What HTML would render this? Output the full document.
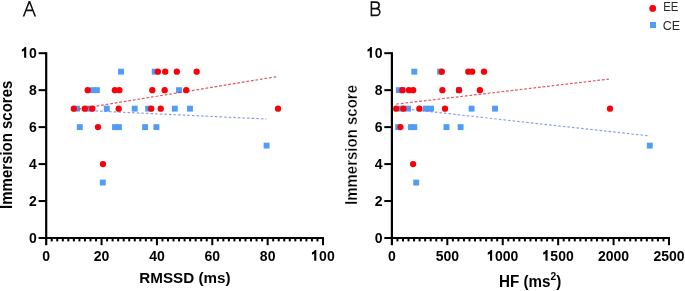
<!DOCTYPE html>
<html><head><meta charset="utf-8"><style>
html,body{margin:0;padding:0;background:#fff;width:685px;height:291px;overflow:hidden}
svg{display:block;font-family:"Liberation Sans",sans-serif;will-change:transform;filter:blur(0.3px)}
</style></head><body>
<svg width="685" height="291" viewBox="0 0 685 291">
<rect width="685" height="291" fill="#fff"/>
<rect x="45.10" y="52.2" width="2.2" height="193.00" fill="#000"/>
<rect x="38.60" y="237" width="285.30" height="2" fill="#000"/>
<rect x="38.60" y="52.20" width="7.6" height="2" fill="#000"/>
<rect x="38.60" y="89.16" width="7.6" height="2" fill="#000"/>
<rect x="38.60" y="126.12" width="7.6" height="2" fill="#000"/>
<rect x="38.60" y="163.08" width="7.6" height="2" fill="#000"/>
<rect x="38.60" y="200.04" width="7.6" height="2" fill="#000"/>
<rect x="50.74" y="238" width="2" height="3.4" fill="#000"/>
<rect x="56.27" y="238" width="2" height="3.4" fill="#000"/>
<rect x="61.81" y="238" width="2" height="3.4" fill="#000"/>
<rect x="67.34" y="238" width="2" height="3.4" fill="#000"/>
<rect x="72.88" y="238" width="2" height="3.4" fill="#000"/>
<rect x="78.42" y="238" width="2" height="3.4" fill="#000"/>
<rect x="83.95" y="238" width="2" height="3.4" fill="#000"/>
<rect x="89.49" y="238" width="2" height="3.4" fill="#000"/>
<rect x="95.02" y="238" width="2" height="3.4" fill="#000"/>
<rect x="100.56" y="238" width="2" height="7.2" fill="#000"/>
<rect x="106.10" y="238" width="2" height="3.4" fill="#000"/>
<rect x="111.63" y="238" width="2" height="3.4" fill="#000"/>
<rect x="117.17" y="238" width="2" height="3.4" fill="#000"/>
<rect x="122.70" y="238" width="2" height="3.4" fill="#000"/>
<rect x="128.24" y="238" width="2" height="3.4" fill="#000"/>
<rect x="133.78" y="238" width="2" height="3.4" fill="#000"/>
<rect x="139.31" y="238" width="2" height="3.4" fill="#000"/>
<rect x="144.85" y="238" width="2" height="3.4" fill="#000"/>
<rect x="150.38" y="238" width="2" height="3.4" fill="#000"/>
<rect x="155.92" y="238" width="2" height="7.2" fill="#000"/>
<rect x="161.46" y="238" width="2" height="3.4" fill="#000"/>
<rect x="166.99" y="238" width="2" height="3.4" fill="#000"/>
<rect x="172.53" y="238" width="2" height="3.4" fill="#000"/>
<rect x="178.06" y="238" width="2" height="3.4" fill="#000"/>
<rect x="183.60" y="238" width="2" height="3.4" fill="#000"/>
<rect x="189.14" y="238" width="2" height="3.4" fill="#000"/>
<rect x="194.67" y="238" width="2" height="3.4" fill="#000"/>
<rect x="200.21" y="238" width="2" height="3.4" fill="#000"/>
<rect x="205.74" y="238" width="2" height="3.4" fill="#000"/>
<rect x="211.28" y="238" width="2" height="7.2" fill="#000"/>
<rect x="216.82" y="238" width="2" height="3.4" fill="#000"/>
<rect x="222.35" y="238" width="2" height="3.4" fill="#000"/>
<rect x="227.89" y="238" width="2" height="3.4" fill="#000"/>
<rect x="233.42" y="238" width="2" height="3.4" fill="#000"/>
<rect x="238.96" y="238" width="2" height="3.4" fill="#000"/>
<rect x="244.50" y="238" width="2" height="3.4" fill="#000"/>
<rect x="250.03" y="238" width="2" height="3.4" fill="#000"/>
<rect x="255.57" y="238" width="2" height="3.4" fill="#000"/>
<rect x="261.10" y="238" width="2" height="3.4" fill="#000"/>
<rect x="266.64" y="238" width="2" height="7.2" fill="#000"/>
<rect x="272.18" y="238" width="2" height="3.4" fill="#000"/>
<rect x="277.71" y="238" width="2" height="3.4" fill="#000"/>
<rect x="283.25" y="238" width="2" height="3.4" fill="#000"/>
<rect x="288.78" y="238" width="2" height="3.4" fill="#000"/>
<rect x="294.32" y="238" width="2" height="3.4" fill="#000"/>
<rect x="299.86" y="238" width="2" height="3.4" fill="#000"/>
<rect x="305.39" y="238" width="2" height="3.4" fill="#000"/>
<rect x="310.93" y="238" width="2" height="3.4" fill="#000"/>
<rect x="316.46" y="238" width="2" height="3.4" fill="#000"/>
<rect x="322.00" y="238" width="2" height="7.2" fill="#000"/>
<rect x="390.80" y="52.2" width="2.2" height="193.00" fill="#000"/>
<rect x="384.30" y="237" width="285.70" height="2" fill="#000"/>
<rect x="384.30" y="52.20" width="7.6" height="2" fill="#000"/>
<rect x="384.30" y="89.16" width="7.6" height="2" fill="#000"/>
<rect x="384.30" y="126.12" width="7.6" height="2" fill="#000"/>
<rect x="384.30" y="163.08" width="7.6" height="2" fill="#000"/>
<rect x="384.30" y="200.04" width="7.6" height="2" fill="#000"/>
<rect x="396.44" y="238" width="2" height="3.4" fill="#000"/>
<rect x="401.98" y="238" width="2" height="3.4" fill="#000"/>
<rect x="407.53" y="238" width="2" height="3.4" fill="#000"/>
<rect x="413.07" y="238" width="2" height="3.4" fill="#000"/>
<rect x="418.61" y="238" width="2" height="3.4" fill="#000"/>
<rect x="424.15" y="238" width="2" height="3.4" fill="#000"/>
<rect x="429.69" y="238" width="2" height="3.4" fill="#000"/>
<rect x="435.24" y="238" width="2" height="3.4" fill="#000"/>
<rect x="440.78" y="238" width="2" height="3.4" fill="#000"/>
<rect x="446.32" y="238" width="2" height="7.2" fill="#000"/>
<rect x="451.86" y="238" width="2" height="3.4" fill="#000"/>
<rect x="457.40" y="238" width="2" height="3.4" fill="#000"/>
<rect x="462.95" y="238" width="2" height="3.4" fill="#000"/>
<rect x="468.49" y="238" width="2" height="3.4" fill="#000"/>
<rect x="474.03" y="238" width="2" height="3.4" fill="#000"/>
<rect x="479.57" y="238" width="2" height="3.4" fill="#000"/>
<rect x="485.11" y="238" width="2" height="3.4" fill="#000"/>
<rect x="490.66" y="238" width="2" height="3.4" fill="#000"/>
<rect x="496.20" y="238" width="2" height="3.4" fill="#000"/>
<rect x="501.74" y="238" width="2" height="7.2" fill="#000"/>
<rect x="507.28" y="238" width="2" height="3.4" fill="#000"/>
<rect x="512.82" y="238" width="2" height="3.4" fill="#000"/>
<rect x="518.37" y="238" width="2" height="3.4" fill="#000"/>
<rect x="523.91" y="238" width="2" height="3.4" fill="#000"/>
<rect x="529.45" y="238" width="2" height="3.4" fill="#000"/>
<rect x="534.99" y="238" width="2" height="3.4" fill="#000"/>
<rect x="540.53" y="238" width="2" height="3.4" fill="#000"/>
<rect x="546.08" y="238" width="2" height="3.4" fill="#000"/>
<rect x="551.62" y="238" width="2" height="3.4" fill="#000"/>
<rect x="557.16" y="238" width="2" height="7.2" fill="#000"/>
<rect x="562.70" y="238" width="2" height="3.4" fill="#000"/>
<rect x="568.24" y="238" width="2" height="3.4" fill="#000"/>
<rect x="573.79" y="238" width="2" height="3.4" fill="#000"/>
<rect x="579.33" y="238" width="2" height="3.4" fill="#000"/>
<rect x="584.87" y="238" width="2" height="3.4" fill="#000"/>
<rect x="590.41" y="238" width="2" height="3.4" fill="#000"/>
<rect x="595.95" y="238" width="2" height="3.4" fill="#000"/>
<rect x="601.50" y="238" width="2" height="3.4" fill="#000"/>
<rect x="607.04" y="238" width="2" height="3.4" fill="#000"/>
<rect x="612.58" y="238" width="2" height="7.2" fill="#000"/>
<rect x="618.12" y="238" width="2" height="3.4" fill="#000"/>
<rect x="623.66" y="238" width="2" height="3.4" fill="#000"/>
<rect x="629.21" y="238" width="2" height="3.4" fill="#000"/>
<rect x="634.75" y="238" width="2" height="3.4" fill="#000"/>
<rect x="640.29" y="238" width="2" height="3.4" fill="#000"/>
<rect x="645.83" y="238" width="2" height="3.4" fill="#000"/>
<rect x="651.37" y="238" width="2" height="3.4" fill="#000"/>
<rect x="656.92" y="238" width="2" height="3.4" fill="#000"/>
<rect x="662.46" y="238" width="2" height="3.4" fill="#000"/>
<rect x="668.00" y="238" width="2" height="7.2" fill="#000"/>
<rect x="74.05" y="105.69" width="5.9" height="5.9" fill="#509cf8"/>
<rect x="85.55" y="105.69" width="5.9" height="5.9" fill="#509cf8"/>
<rect x="103.85" y="105.69" width="5.9" height="5.9" fill="#509cf8"/>
<rect x="131.75" y="105.69" width="5.9" height="5.9" fill="#509cf8"/>
<rect x="145.25" y="105.69" width="5.9" height="5.9" fill="#509cf8"/>
<rect x="171.85" y="105.69" width="5.9" height="5.9" fill="#509cf8"/>
<rect x="187.05" y="105.69" width="5.9" height="5.9" fill="#509cf8"/>
<rect x="89.95" y="87.21" width="5.9" height="5.9" fill="#509cf8"/>
<rect x="93.95" y="87.21" width="5.9" height="5.9" fill="#509cf8"/>
<rect x="118.05" y="68.73" width="5.9" height="5.9" fill="#509cf8"/>
<rect x="151.75" y="68.73" width="5.9" height="5.9" fill="#509cf8"/>
<rect x="176.05" y="87.21" width="5.9" height="5.9" fill="#509cf8"/>
<rect x="76.85" y="124.17" width="5.9" height="5.9" fill="#509cf8"/>
<rect x="112.05" y="124.17" width="5.9" height="5.9" fill="#509cf8"/>
<rect x="115.95" y="124.17" width="5.9" height="5.9" fill="#509cf8"/>
<rect x="142.15" y="124.17" width="5.9" height="5.9" fill="#509cf8"/>
<rect x="153.45" y="124.17" width="5.9" height="5.9" fill="#509cf8"/>
<rect x="99.85" y="179.61" width="5.9" height="5.9" fill="#509cf8"/>
<rect x="263.65" y="142.65" width="5.9" height="5.9" fill="#509cf8"/>
<rect x="395.95" y="87.21" width="5.9" height="5.9" fill="#509cf8"/>
<rect x="399.55" y="87.21" width="5.9" height="5.9" fill="#509cf8"/>
<rect x="411.35" y="68.73" width="5.9" height="5.9" fill="#509cf8"/>
<rect x="437.15" y="68.73" width="5.9" height="5.9" fill="#509cf8"/>
<rect x="456.05" y="87.21" width="5.9" height="5.9" fill="#509cf8"/>
<rect x="398.35" y="105.69" width="5.9" height="5.9" fill="#509cf8"/>
<rect x="405.05" y="105.69" width="5.9" height="5.9" fill="#509cf8"/>
<rect x="423.05" y="105.69" width="5.9" height="5.9" fill="#509cf8"/>
<rect x="428.05" y="105.69" width="5.9" height="5.9" fill="#509cf8"/>
<rect x="468.65" y="105.69" width="5.9" height="5.9" fill="#509cf8"/>
<rect x="492.05" y="105.69" width="5.9" height="5.9" fill="#509cf8"/>
<rect x="395.25" y="124.17" width="5.9" height="5.9" fill="#509cf8"/>
<rect x="408.05" y="124.17" width="5.9" height="5.9" fill="#509cf8"/>
<rect x="411.35" y="124.17" width="5.9" height="5.9" fill="#509cf8"/>
<rect x="443.55" y="124.17" width="5.9" height="5.9" fill="#509cf8"/>
<rect x="457.65" y="124.17" width="5.9" height="5.9" fill="#509cf8"/>
<rect x="413.25" y="179.61" width="5.9" height="5.9" fill="#509cf8"/>
<rect x="646.85" y="142.65" width="5.9" height="5.9" fill="#509cf8"/>
<line x1="73.8" y1="109.8" x2="276.1" y2="76.8" stroke="#dc2c42" stroke-width="1.2" stroke-opacity="0.8" stroke-dasharray="2.8 1.8"/>
<line x1="77.0" y1="110.1" x2="266.4" y2="119.0" stroke="#6a80d8" stroke-width="1.2" stroke-opacity="0.75" stroke-dasharray="2.6 2.0"/>
<line x1="396.3" y1="104.1" x2="608.9" y2="79.1" stroke="#dc2c42" stroke-width="1.2" stroke-opacity="0.8" stroke-dasharray="2.8 1.8"/>
<line x1="398.2" y1="108.1" x2="650.0" y2="136.0" stroke="#6a80d8" stroke-width="1.2" stroke-opacity="0.75" stroke-dasharray="2.6 2.0"/>
<circle cx="73.8" cy="108.64" r="3.15" fill="#fb0008"/>
<circle cx="84.8" cy="108.64" r="3.15" fill="#fb0008"/>
<circle cx="92.3" cy="108.64" r="3.15" fill="#fb0008"/>
<circle cx="118.7" cy="108.64" r="3.15" fill="#fb0008"/>
<circle cx="87.7" cy="90.16" r="3.15" fill="#fb0008"/>
<circle cx="114.9" cy="90.16" r="3.15" fill="#fb0008"/>
<circle cx="119.4" cy="90.16" r="3.15" fill="#fb0008"/>
<circle cx="98.0" cy="127.12" r="3.15" fill="#fb0008"/>
<circle cx="103.0" cy="164.08" r="3.15" fill="#fb0008"/>
<circle cx="151.2" cy="108.64" r="3.15" fill="#fb0008"/>
<circle cx="160.7" cy="108.64" r="3.15" fill="#fb0008"/>
<circle cx="152.3" cy="90.16" r="3.15" fill="#fb0008"/>
<circle cx="164.7" cy="90.16" r="3.15" fill="#fb0008"/>
<circle cx="186.2" cy="90.16" r="3.15" fill="#fb0008"/>
<circle cx="157.9" cy="71.68" r="3.15" fill="#fb0008"/>
<circle cx="165.2" cy="71.68" r="3.15" fill="#fb0008"/>
<circle cx="176.8" cy="71.68" r="3.15" fill="#fb0008"/>
<circle cx="196.7" cy="71.68" r="3.15" fill="#fb0008"/>
<circle cx="278.0" cy="108.64" r="3.15" fill="#fb0008"/>
<circle cx="396.2" cy="108.64" r="3.15" fill="#fb0008"/>
<circle cx="403.4" cy="108.64" r="3.15" fill="#fb0008"/>
<circle cx="419.4" cy="108.64" r="3.15" fill="#fb0008"/>
<circle cx="445.0" cy="108.64" r="3.15" fill="#fb0008"/>
<circle cx="402.4" cy="90.16" r="3.15" fill="#fb0008"/>
<circle cx="408.9" cy="90.16" r="3.15" fill="#fb0008"/>
<circle cx="413.2" cy="90.16" r="3.15" fill="#fb0008"/>
<circle cx="442.4" cy="90.16" r="3.15" fill="#fb0008"/>
<circle cx="459.0" cy="90.16" r="3.15" fill="#fb0008"/>
<circle cx="479.9" cy="90.16" r="3.15" fill="#fb0008"/>
<circle cx="441.8" cy="71.68" r="3.15" fill="#fb0008"/>
<circle cx="468.3" cy="71.68" r="3.15" fill="#fb0008"/>
<circle cx="472.2" cy="71.68" r="3.15" fill="#fb0008"/>
<circle cx="484.0" cy="71.68" r="3.15" fill="#fb0008"/>
<circle cx="400.4" cy="127.12" r="3.15" fill="#fb0008"/>
<circle cx="413.1" cy="164.08" r="3.15" fill="#fb0008"/>
<circle cx="610.0" cy="108.64" r="3.15" fill="#fb0008"/>
<path d="M0.356 0L0.356 -0.70L0.25 -0.70C0.22 -0.63 0.14 -0.575 0.045 -0.55L0.045 -0.40C0.11 -0.42 0.17 -0.45 0.206 -0.48L0.206 0Z" fill="#000" transform="translate(21.22,57.80) scale(14.014,15.400)"/>
<g transform="translate(29.01,57.80) scale(0.91,1)"><text x="0" y="0" font-size="15.4" font-weight="bold" fill="#000">0</text></g>
<g transform="translate(29.01,94.76) scale(0.91,1)"><text x="0" y="0" font-size="15.4" font-weight="bold" fill="#000">8</text></g>
<g transform="translate(29.01,131.72) scale(0.91,1)"><text x="0" y="0" font-size="15.4" font-weight="bold" fill="#000">6</text></g>
<g transform="translate(29.01,168.68) scale(0.91,1)"><text x="0" y="0" font-size="15.4" font-weight="bold" fill="#000">4</text></g>
<g transform="translate(29.01,205.64) scale(0.91,1)"><text x="0" y="0" font-size="15.4" font-weight="bold" fill="#000">2</text></g>
<g transform="translate(29.01,242.60) scale(0.91,1)"><text x="0" y="0" font-size="15.4" font-weight="bold" fill="#000">0</text></g>
<path d="M0.356 0L0.356 -0.70L0.25 -0.70C0.22 -0.63 0.14 -0.575 0.045 -0.55L0.045 -0.40C0.11 -0.42 0.17 -0.45 0.206 -0.48L0.206 0Z" fill="#000" transform="translate(366.92,57.80) scale(14.014,15.400)"/>
<g transform="translate(374.71,57.80) scale(0.91,1)"><text x="0" y="0" font-size="15.4" font-weight="bold" fill="#000">0</text></g>
<g transform="translate(374.71,94.76) scale(0.91,1)"><text x="0" y="0" font-size="15.4" font-weight="bold" fill="#000">8</text></g>
<g transform="translate(374.71,131.72) scale(0.91,1)"><text x="0" y="0" font-size="15.4" font-weight="bold" fill="#000">6</text></g>
<g transform="translate(374.71,168.68) scale(0.91,1)"><text x="0" y="0" font-size="15.4" font-weight="bold" fill="#000">4</text></g>
<g transform="translate(374.71,205.64) scale(0.91,1)"><text x="0" y="0" font-size="15.4" font-weight="bold" fill="#000">2</text></g>
<g transform="translate(374.71,242.60) scale(0.91,1)"><text x="0" y="0" font-size="15.4" font-weight="bold" fill="#000">0</text></g>
<g transform="translate(42.30,260.80) scale(0.91,1)"><text x="0" y="0" font-size="15.4" font-weight="bold" fill="#000">0</text></g>
<g transform="translate(93.77,260.80) scale(0.91,1)"><text x="0" y="0" font-size="15.4" font-weight="bold" fill="#000">2</text></g>
<g transform="translate(101.56,260.80) scale(0.91,1)"><text x="0" y="0" font-size="15.4" font-weight="bold" fill="#000">0</text></g>
<g transform="translate(149.13,260.80) scale(0.91,1)"><text x="0" y="0" font-size="15.4" font-weight="bold" fill="#000">4</text></g>
<g transform="translate(156.92,260.80) scale(0.91,1)"><text x="0" y="0" font-size="15.4" font-weight="bold" fill="#000">0</text></g>
<g transform="translate(204.49,260.80) scale(0.91,1)"><text x="0" y="0" font-size="15.4" font-weight="bold" fill="#000">6</text></g>
<g transform="translate(212.28,260.80) scale(0.91,1)"><text x="0" y="0" font-size="15.4" font-weight="bold" fill="#000">0</text></g>
<g transform="translate(259.85,260.80) scale(0.91,1)"><text x="0" y="0" font-size="15.4" font-weight="bold" fill="#000">8</text></g>
<g transform="translate(267.64,260.80) scale(0.91,1)"><text x="0" y="0" font-size="15.4" font-weight="bold" fill="#000">0</text></g>
<path d="M0.356 0L0.356 -0.70L0.25 -0.70C0.22 -0.63 0.14 -0.575 0.045 -0.55L0.045 -0.40C0.11 -0.42 0.17 -0.45 0.206 -0.48L0.206 0Z" fill="#000" transform="translate(311.31,260.80) scale(14.014,15.400)"/>
<g transform="translate(319.10,260.80) scale(0.91,1)"><text x="0" y="0" font-size="15.4" font-weight="bold" fill="#000">0</text></g>
<g transform="translate(326.90,260.80) scale(0.91,1)"><text x="0" y="0" font-size="15.4" font-weight="bold" fill="#000">0</text></g>
<g transform="translate(388.00,260.80) scale(0.91,1)"><text x="0" y="0" font-size="15.4" font-weight="bold" fill="#000">0</text></g>
<g transform="translate(435.63,260.80) scale(0.91,1)"><text x="0" y="0" font-size="15.4" font-weight="bold" fill="#000">5</text></g>
<g transform="translate(443.42,260.80) scale(0.91,1)"><text x="0" y="0" font-size="15.4" font-weight="bold" fill="#000">0</text></g>
<g transform="translate(451.22,260.80) scale(0.91,1)"><text x="0" y="0" font-size="15.4" font-weight="bold" fill="#000">0</text></g>
<path d="M0.356 0L0.356 -0.70L0.25 -0.70C0.22 -0.63 0.14 -0.575 0.045 -0.55L0.045 -0.40C0.11 -0.42 0.17 -0.45 0.206 -0.48L0.206 0Z" fill="#000" transform="translate(487.16,260.80) scale(14.014,15.400)"/>
<g transform="translate(494.95,260.80) scale(0.91,1)"><text x="0" y="0" font-size="15.4" font-weight="bold" fill="#000">0</text></g>
<g transform="translate(502.74,260.80) scale(0.91,1)"><text x="0" y="0" font-size="15.4" font-weight="bold" fill="#000">0</text></g>
<g transform="translate(510.53,260.80) scale(0.91,1)"><text x="0" y="0" font-size="15.4" font-weight="bold" fill="#000">0</text></g>
<path d="M0.356 0L0.356 -0.70L0.25 -0.70C0.22 -0.63 0.14 -0.575 0.045 -0.55L0.045 -0.40C0.11 -0.42 0.17 -0.45 0.206 -0.48L0.206 0Z" fill="#000" transform="translate(542.58,260.80) scale(14.014,15.400)"/>
<g transform="translate(550.37,260.80) scale(0.91,1)"><text x="0" y="0" font-size="15.4" font-weight="bold" fill="#000">5</text></g>
<g transform="translate(558.16,260.80) scale(0.91,1)"><text x="0" y="0" font-size="15.4" font-weight="bold" fill="#000">0</text></g>
<g transform="translate(565.95,260.80) scale(0.91,1)"><text x="0" y="0" font-size="15.4" font-weight="bold" fill="#000">0</text></g>
<g transform="translate(598.00,260.80) scale(0.91,1)"><text x="0" y="0" font-size="15.4" font-weight="bold" fill="#000">2</text></g>
<g transform="translate(605.79,260.80) scale(0.91,1)"><text x="0" y="0" font-size="15.4" font-weight="bold" fill="#000">0</text></g>
<g transform="translate(613.58,260.80) scale(0.91,1)"><text x="0" y="0" font-size="15.4" font-weight="bold" fill="#000">0</text></g>
<g transform="translate(621.37,260.80) scale(0.91,1)"><text x="0" y="0" font-size="15.4" font-weight="bold" fill="#000">0</text></g>
<g transform="translate(653.42,260.80) scale(0.91,1)"><text x="0" y="0" font-size="15.4" font-weight="bold" fill="#000">2</text></g>
<g transform="translate(661.21,260.80) scale(0.91,1)"><text x="0" y="0" font-size="15.4" font-weight="bold" fill="#000">5</text></g>
<g transform="translate(669.00,260.80) scale(0.91,1)"><text x="0" y="0" font-size="15.4" font-weight="bold" fill="#000">0</text></g>
<g transform="translate(676.79,260.80) scale(0.91,1)"><text x="0" y="0" font-size="15.4" font-weight="bold" fill="#000">0</text></g>
<g transform="translate(184.9,283.1) scale(1.0,1.01)"><text x="0" y="0" font-size="15.2" font-weight="bold" text-anchor="middle" fill="#000" >RMSSD (ms)</text></g>
<g transform="translate(530.1,286.6) scale(1.0,1.03)"><text x="0" y="0" font-size="15.2" font-weight="bold" text-anchor="middle" fill="#000" >HF (ms<tspan font-size="10.3" dy="-6.6">2</tspan><tspan dy="6.6">)</tspan></text></g>
<text x="0" y="0" font-size="15" font-weight="bold" text-anchor="middle" fill="#000" transform="translate(12.25,144.8) rotate(-90) scale(1,1.1)">Immersion scores</text>
<text x="0" y="0" font-size="15" font-weight="bold" text-anchor="middle" fill="#000" stroke="#fff" stroke-width="0.25" transform="translate(356.7,145.0) rotate(-90) scale(1,1.13)">Immersion score</text>
<path fill="#111" fill-rule="evenodd" d="M22.7 16.5L28.65 1.1L30.15 1.1L36.1 16.5L34.45 16.5L32.45 11.2L26.35 11.2L24.35 16.5ZM26.97 9.6L31.83 9.6L29.4 3.4Z"/>
<path d="M371.4 2.1H375.9A3.25 3.25 0 0 1 375.9 8.6H371.4M371.4 8.6H376.4A3.4 3.4 0 0 1 376.4 15.4H371.4" stroke="#111" stroke-width="1.6" fill="none"/><rect x="370.6" y="1.3" width="1.6" height="14.9" fill="#111"/>
<circle cx="652.7" cy="8.4" r="3.4" fill="#fb0008"/>
<rect x="650" y="22" width="6" height="6" fill="#509cf8"/>
<g transform="translate(663.2,11.3) scale(0.87,1.0)"><text x="0" y="0" font-size="13.1" font-weight="normal" text-anchor="start" fill="#282828" >EE</text></g>
<g transform="translate(662.7,29.7) scale(0.95,1.0)"><text x="0" y="0" font-size="13.2" font-weight="normal" text-anchor="start" fill="#282828" >CE</text></g>
</svg>
</body></html>
